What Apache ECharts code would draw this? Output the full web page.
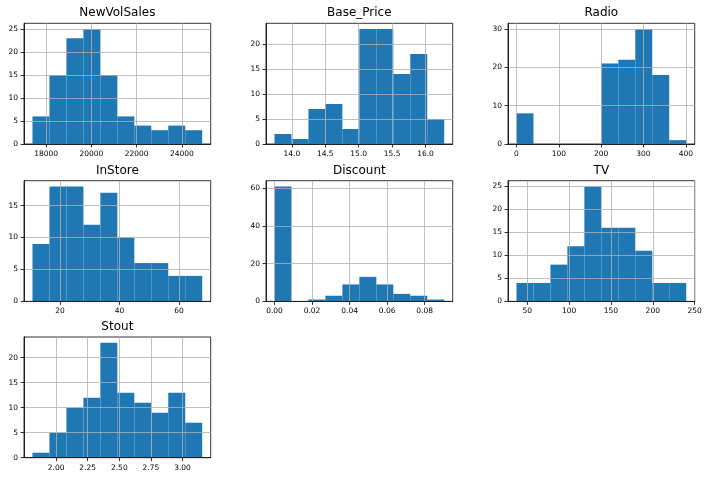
<!DOCTYPE html>
<html><head><meta charset="utf-8">
<script src="https://cdn.jsdelivr.net/npm/echarts@6/dist/echarts.min.js"></script>
<style>html,body{margin:0;padding:0;background:#fff}#c{width:708px;height:481px}</style>
</head><body><div id="c"></div>
<script>
const names = ['NewVolSales', 'Base_Price', 'Radio', 'InStore', 'Discount', 'TV', 'Stout'];

// histogram counts (10 bins each)
const newVolSalesCounts = [6, 15, 23, 25, 15, 6, 4, 3, 4, 3];
const basePriceCounts   = [2, 1, 7, 8, 3, 23, 23, 14, 18, 5];
const radioCounts       = [8, 0, 0, 0, 0, 21, 22, 30, 18, 1];
const inStoreCounts     = [9, 18, 18, 12, 17, 10, 6, 6, 4, 4];
const discountCounts    = [61, 0, 1, 3, 9, 13, 9, 4, 3, 1];
const tvCounts          = [4, 4, 8, 12, 25, 16, 16, 11, 4, 4];
const stoutCounts       = [1, 5, 10, 12, 23, 13, 11, 9, 13, 7];

// data min / max for each variable (bin range)
const binRanges = [[17400, 24900], [13.74, 16.28], [0, 401], [10.7, 67.85], [0, 0.0904], [37.0, 240.0], [1.813, 3.156]];

// tick labels
const xTicks = [
  [18000, 20000, 22000, 24000],
  [14.0, 14.5, 15.0, 15.5, 16.0],
  [0, 100, 200, 300, 400],
  [20, 40, 60],
  [0.00, 0.02, 0.04, 0.06, 0.08],
  [50, 100, 150, 200, 250],
  [2.00, 2.25, 2.50, 2.75, 3.00]
];
const yTicks = [
  [0, 5, 10, 15, 20, 25],
  [0, 5, 10, 15, 20],
  [0, 10, 20, 30],
  [0, 5, 10, 15],
  [0, 20, 40, 60],
  [0, 5, 10, 15, 20, 25],
  [0, 5, 10, 15, 20]
];
const xDecimals = [0, 1, 0, 0, 2, 0, 2];

const countsList = [newVolSalesCounts, basePriceCounts, radioCounts, inStoreCounts, discountCounts, tvCounts, stoutCounts];

const FONT = 'DejaVu Sans';
const colsLeft = [24, 266, 508];
const rowsTop = [23.3, 180.7, 337];
const W = 186.7, H = 120.7;

const grids = [], xAxes = [], yAxes = [], series = [], titles = [];
names.forEach((name, i) => {
  const r = Math.floor(i / 3), c = i % 3;
  grids.push({left: colsLeft[c], top: rowsTop[r], width: W, height: H,
    show: true, borderColor: '#000', borderWidth: 0.8, containLabel: false});
  const [lo, hi] = binRanges[i];
  const span = hi - lo;
  const counts = countsList[i];
  const data = counts.map((v, k) => [lo + span * k / 10, lo + span * (k + 1) / 10, v]);
  const ymax = Math.max(...counts) * 1.05;
  const dec = xDecimals[i];
  xAxes.push({type: 'value', gridIndex: i, min: lo - 0.05 * span, max: hi + 0.05 * span, z: 5,
    axisLine: {show: true, onZero: false, lineStyle: {color: '#000', width: 0.8}},
    axisTick: {show: true, length: 3.5, customValues: xTicks[i], lineStyle: {color: '#000', width: 0.8}},
    axisLabel: {customValues: xTicks[i], formatter: v => Number(v).toFixed(dec), fontSize: 7.5, color: '#000', margin: 6, fontFamily: FONT},
    splitLine: {show: true, lineStyle: {color: '#b0b0b0', width: 0.8}}
  });
  yAxes.push({type: 'value', gridIndex: i, min: 0, max: ymax, z: 5,
    axisLine: {show: true, onZero: false, lineStyle: {color: '#000', width: 0.8}},
    axisTick: {show: true, length: 3.5, customValues: yTicks[i], lineStyle: {color: '#000', width: 0.8}},
    axisLabel: {customValues: yTicks[i], formatter: v => String(Math.round(v)), fontSize: 7.5, color: '#000', margin: 6, fontFamily: FONT},
    splitLine: {show: true, lineStyle: {color: '#b0b0b0', width: 0.8}}
  });
  series.push({type: 'custom', xAxisIndex: i, yAxisIndex: i, z: 2, data: data,
    encode: {x: [0, 1], y: 2},
    renderItem: (params, api) => {
      const p0 = api.coord([api.value(0), api.value(2)]);
      const p1 = api.coord([api.value(1), 0]);
      return {type: 'rect', shape: {x: p0[0], y: p0[1], width: p1[0] - p0[0], height: p1[1] - p0[1]},
        style: {fill: '#1f77b4'}};
    }
  });
  titles.push({text: name, left: colsLeft[c] + W / 2, top: rowsTop[r] - 16, textAlign: 'center', padding: 0,
    textStyle: {fontSize: 12, fontWeight: 'normal', color: '#000', fontFamily: FONT}});
});

const chart = echarts.init(document.getElementById('c'), null, {renderer: 'canvas'});
chart.setOption({animation: false, backgroundColor: '#fff', title: titles, grid: grids, xAxis: xAxes, yAxis: yAxes, series: series});
</script>
</body></html>
